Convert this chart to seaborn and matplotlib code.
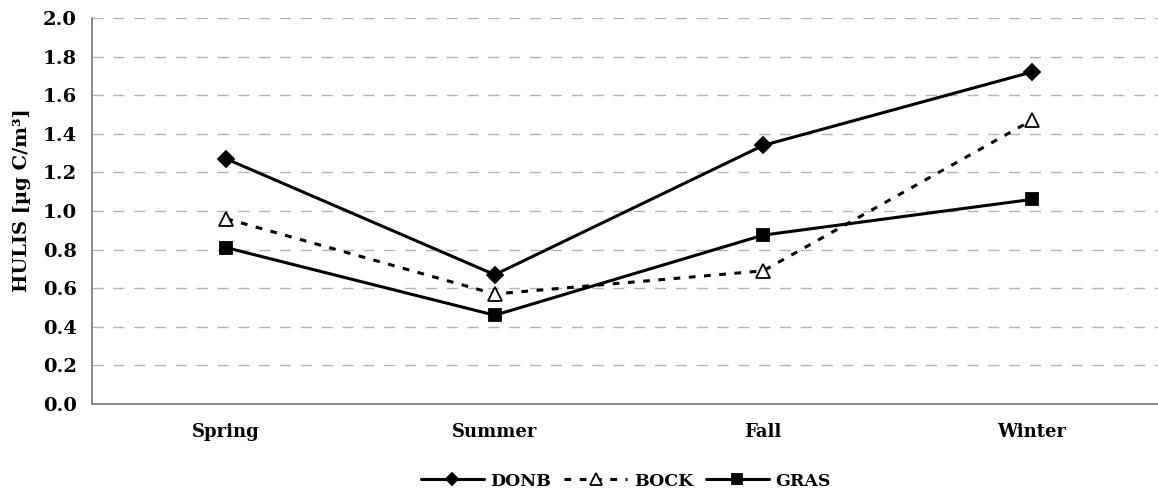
import matplotlib
matplotlib.use("Agg")
import matplotlib.pyplot as plt
import seaborn as sns
import pandas as pd
from matplotlib.ticker import MultipleLocator, FixedLocator

seasons = ["Spring", "Summer", "Fall", "Winter"]
donb = [1.27, 0.67, 1.34, 1.72]
bock = [0.96, 0.57, 0.69, 1.47]
gras = [0.81, 0.46, 0.875, 1.06]

sns.set_style("white")
plt.rcParams["font.family"] = ["DejaVu Serif"]
plt.rcParams["font.weight"] = "bold"
plt.rcParams["text.color"] = "black"
plt.rcParams["xtick.color"] = "black"
plt.rcParams["ytick.color"] = "black"
plt.rcParams["axes.labelcolor"] = "black"

fig = plt.figure(figsize=(11.58, 4.95), dpi=100)
ax = fig.add_axes([92 / 1158, 91 / 495, 1074 / 1158, 386 / 495])

styles = {
    "DONB": dict(values=donb, marker="D", ms=8, mfc="black", ls="-"),
    "BOCK": dict(values=bock, marker="^", ms=10, mfc="white", ls=(0, (2.2, 2.8))),
    "GRAS": dict(values=gras, marker="s", ms=9, mfc="black", ls="-"),
}

for name, st in styles.items():
    df = pd.DataFrame({"season": seasons, "value": st["values"]})
    sns.lineplot(data=df, x="season", y="value", ax=ax, color="black",
                 linewidth=2.2, linestyle=st["ls"], marker=st["marker"],
                 markersize=st["ms"], markerfacecolor=st["mfc"],
                 markeredgecolor="black", markeredgewidth=1.3,
                 label=name, sort=False)

ax.set_xlim(-0.5, 3.5)
ax.set_ylim(0, 2.0)
ax.yaxis.set_major_locator(MultipleLocator(0.2))
ax.set_yticklabels([f"{v:.1f}" for v in ax.get_yticks()], fontsize=14, fontweight="bold")
ax.xaxis.set_major_locator(FixedLocator([0, 1, 2, 3]))
ax.set_xticklabels(seasons, fontsize=13, fontweight="bold")
ax.xaxis.set_minor_locator(FixedLocator([0.5, 1.5, 2.5]))
ax.tick_params(axis="x", which="major", length=0, pad=14)
ax.tick_params(axis="x", which="minor", length=5, width=1, color="#808080", direction="out")
ax.tick_params(axis="y", which="major", length=5, width=1, color="#808080", direction="out", pad=6)

ax.grid(axis="y", color="#b3b3b3", linestyle=(0, (8, 7)), linewidth=1.0)
ax.set_axisbelow(True)
for side in ["top", "right"]:
    ax.spines[side].set_visible(False)
for side in ["left", "bottom"]:
    ax.spines[side].set_color("#808080")
    ax.spines[side].set_linewidth(1.3)

ax.set_xlabel("")
ax.set_ylabel("HULIS [µg C/m³]", fontsize=14, fontweight="bold",
              va="center")
ax.yaxis.set_label_coords(-0.065, 0.528)

handles, labels = ax.get_legend_handles_labels()
ax.legend().remove()
# legend centred under the plot area
fig.legend(handles, labels, loc="center", bbox_to_anchor=(626 / 1158, 14 / 495),
           ncol=3, frameon=False, handlelength=3.6, columnspacing=0.75,
           handletextpad=0.4, markerscale=0.8,
           prop=dict(family="DejaVu Serif", weight="bold", size=12.5))

fig.savefig("out.png", dpi=100)
